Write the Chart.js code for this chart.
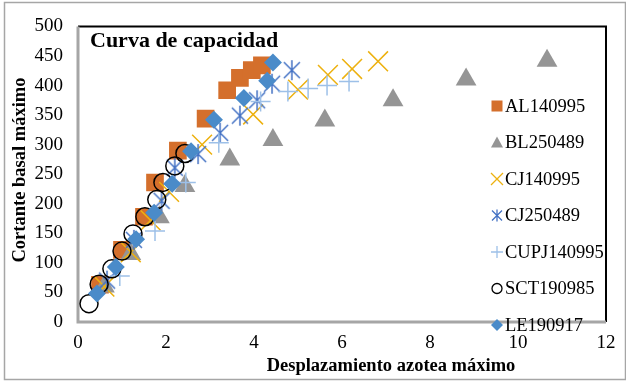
<!DOCTYPE html>
<html>
<head>
<meta charset="utf-8">
<script src="https://cdn.jsdelivr.net/npm/chart.js@4.4.0/dist/chart.umd.min.js"></script>
<style>
  html, body { margin: 0; padding: 0; background: #fff; }
  #wrap { width: 626px; height: 381px; }
</style>
</head>
<body>
<div id="wrap"><canvas id="chart" width="626" height="381"></canvas></div>
<script>
// series: [desplazamiento, cortante]
const seriesNames = ['AL140995', 'BL250489', 'CJ140995', 'CJ250489', 'CUPJ140995', 'SCT190985', 'LE190917'];
const al140995 = [[0.5, 63], [1.0, 122], [1.5, 178], [1.75, 236], [2.27, 290], [2.9, 344], [3.39, 392], [3.68, 413], [3.95, 426], [4.18, 434]];
const bl250489 = [[0.6, 60], [1.2, 115], [1.85, 177], [2.43, 230], [3.45, 275], [4.43, 308], [5.61, 341], [7.16, 375], [8.82, 410], [10.66, 442]];
const cj140995 = [[0.6, 60], [1.2, 118], [1.65, 172], [2.07, 220], [2.82, 300], [3.98, 351], [5.0, 393], [5.68, 418], [6.23, 428], [6.82, 441]];
const cj250489 = [[0.66, 70], [1.27, 139], [1.9, 205], [2.2, 261], [2.73, 284], [3.23, 320], [3.68, 349], [4.07, 375], [4.41, 403], [4.86, 426]];
const cupj140995 = [[0.95, 78], [1.75, 154], [2.45, 236], [3.2, 303], [4.15, 373], [4.77, 390], [5.23, 395], [5.66, 400], [6.16, 407]];
const sct190985 = [[0.25, 31], [0.48, 64], [0.77, 90], [1.0, 120], [1.25, 149], [1.52, 178], [1.79, 207], [1.93, 236], [2.2, 264], [2.43, 285]];
const le190917 = [[0.43, 48], [0.86, 93], [1.32, 140], [1.73, 185], [2.14, 234], [2.57, 289], [3.09, 342], [3.77, 379], [4.3, 408], [4.43, 439]];

const xTicks = [0, 2, 4, 6, 8, 10, 12];
const yTicks = [0, 50, 100, 150, 200, 250, 300, 350, 400, 450, 500];

const chartTitle = 'Curva de capacidad';
const xTitle = 'Desplazamiento azotea máximo';
const yTitle = 'Cortante basal máximo';

const allSeries = [al140995, bl250489, cj140995, cj250489, cupj140995, sct190985, le190917];
const colors = ['#D46F2C', '#959595', '#EDB10F', '#4472C4', '#9DC0E8', '#000000', '#4A8BC9'];
const serif = "'Liberation Serif', 'Times New Roman', serif";

// Excel style asterisk: vertical stroke plus an X
function asterisk(size, color, lw) {
  const c = document.createElement('canvas');
  c.width = size; c.height = size;
  const g = c.getContext('2d');
  const m = size / 2, r = size / 2 - 1;
  g.strokeStyle = color;
  g.lineWidth = lw;
  g.beginPath();
  g.moveTo(m, m - r); g.lineTo(m, m + r);
  g.moveTo(m - r * 0.8, m - r * 0.8); g.lineTo(m + r * 0.8, m + r * 0.8);
  g.moveTo(m + r * 0.8, m - r * 0.8); g.lineTo(m - r * 0.8, m + r * 0.8);
  g.stroke();
  return c;
}

const styles = [
  { pointStyle: 'rect', pointRadius: 12.5, backgroundColor: colors[0], borderColor: colors[0], borderWidth: 0 },
  { pointStyle: 'triangle', pointRadius: 12, backgroundColor: colors[1], borderColor: colors[1], borderWidth: 0 },
  { pointStyle: 'crossRot', pointRadius: 14, backgroundColor: colors[2], borderColor: colors[2], borderWidth: 1.5 },
  { pointStyle: asterisk(22, colors[3], 1.5), pointRadius: 11, backgroundColor: colors[3], borderColor: colors[3], borderWidth: 1.5 },
  { pointStyle: 'cross', pointRadius: 10, backgroundColor: colors[4], borderColor: colors[4], borderWidth: 1.5 },
  { pointStyle: 'circle', pointRadius: 9, backgroundColor: 'rgba(0,0,0,0)', borderColor: colors[5], borderWidth: 1.5 },
  { pointStyle: 'rectRot', pointRadius: 9, backgroundColor: colors[6], borderColor: colors[6], borderWidth: 0 }
];

const datasets = allSeries.map((s, i) => Object.assign({
  label: seriesNames[i],
  data: s.map(p => ({ x: p[0], y: p[1] })),
  showLine: false,
  order: allSeries.length - 1 - i
}, styles[i]));

function legendMarker(ctx, i, x, y) {
  const c = colors[i];
  ctx.save();
  ctx.fillStyle = c;
  ctx.strokeStyle = c;
  ctx.lineWidth = 1.3;
  ctx.beginPath();
  if (i === 0) {
    ctx.fillRect(x - 5.5, y - 5.5, 11, 11);
  } else if (i === 1) {
    ctx.moveTo(x, y - 6); ctx.lineTo(x + 6, y + 5); ctx.lineTo(x - 6, y + 5); ctx.closePath(); ctx.fill();
  } else if (i === 2) {
    ctx.moveTo(x - 6, y - 6); ctx.lineTo(x + 6, y + 6); ctx.moveTo(x + 6, y - 6); ctx.lineTo(x - 6, y + 6); ctx.stroke();
  } else if (i === 3) {
    ctx.moveTo(x, y - 6); ctx.lineTo(x, y + 6);
    ctx.moveTo(x - 5, y - 5); ctx.lineTo(x + 5, y + 5); ctx.moveTo(x + 5, y - 5); ctx.lineTo(x - 5, y + 5); ctx.stroke();
  } else if (i === 4) {
    ctx.moveTo(x - 6, y); ctx.lineTo(x + 6, y); ctx.moveTo(x, y - 6); ctx.lineTo(x, y + 6); ctx.stroke();
  } else if (i === 5) {
    ctx.arc(x, y, 5, 0, Math.PI * 2); ctx.stroke();
  } else {
    ctx.moveTo(x, y - 6); ctx.lineTo(x + 6, y); ctx.lineTo(x, y + 6); ctx.lineTo(x - 6, y); ctx.closePath(); ctx.fill();
  }
  ctx.restore();
}

const decor = {
  id: 'decor',
  beforeDraw(chart) {
    const ctx = chart.ctx;
    ctx.save();
    ctx.fillStyle = '#fff';
    ctx.fillRect(0, 0, chart.width, chart.height);
    ctx.strokeStyle = '#A6A6A6';
    ctx.lineWidth = 1.5;
    ctx.strokeRect(4.5, 2.5, 621, 377);
    ctx.restore();
  },
  beforeDatasetsDraw(chart) {
    const ctx = chart.ctx, a = chart.chartArea;
    ctx.save();
    ctx.lineWidth = 2;
    ctx.strokeStyle = '#000';
    ctx.beginPath();
    ctx.moveTo(a.left, a.top); ctx.lineTo(a.right, a.top); ctx.lineTo(a.right, a.bottom);
    ctx.stroke();
    ctx.strokeStyle = '#A6A6A6';
    ctx.lineWidth = 3;
    ctx.beginPath();
    ctx.moveTo(a.left, a.top); ctx.lineTo(a.left, a.bottom); ctx.lineTo(a.right, a.bottom);
    ctx.stroke();
    ctx.restore();
  },
  afterDraw(chart) {
    const ctx = chart.ctx;
    ctx.save();
    ctx.fillStyle = '#000';
    ctx.textBaseline = 'middle';
    ctx.textAlign = 'left';
    ctx.font = 'bold 22px ' + serif;
    ctx.fillText(chartTitle, 90, 41);

    ctx.font = 'bold 18.5px ' + serif;
    ctx.textAlign = 'center';
    ctx.fillText(xTitle, 391, 366);
    ctx.save();
    ctx.translate(20, 170);
    ctx.rotate(-Math.PI / 2);
    ctx.fillText(yTitle, 0, 0);
    ctx.restore();

    ctx.font = '18.5px ' + serif;
    ctx.textAlign = 'left';
    seriesNames.forEach((n, i) => {
      const y = 106 + i * 36.5;
      legendMarker(ctx, i, 497, y);
      ctx.fillStyle = '#000';
      ctx.fillText(n, 505, y + 1);
    });
    ctx.restore();
  }
};

new Chart(document.getElementById('chart'), {
  type: 'scatter',
  data: { datasets: datasets },
  plugins: [decor],
  options: {
    responsive: false,
    animation: false,
    devicePixelRatio: 1,
    layout: { padding: { left: 0, top: 17, right: 20, bottom: 0 } },
    plugins: { legend: { display: false }, tooltip: { enabled: false } },
    scales: {
      x: {
        type: 'linear', min: 0, max: 12,
        afterBuildTicks: s => { s.ticks = xTicks.map(v => ({ value: v })); },
        afterFit: s => { s.height = 59; },
        grid: { display: false, drawTicks: false },
        border: { display: false },
        ticks: { color: '#000', padding: 10, font: { family: serif, size: 19 } }
      },
      y: {
        type: 'linear', min: 0, max: 500,
        afterBuildTicks: s => { s.ticks = yTicks.map(v => ({ value: v })); },
        afterFit: s => { s.width = 78; },
        grid: { display: false, drawTicks: false },
        border: { display: false },
        ticks: { color: '#000', padding: 15, font: { family: serif, size: 19 } }
      }
    }
  }
});
</script>
</body>
</html>
